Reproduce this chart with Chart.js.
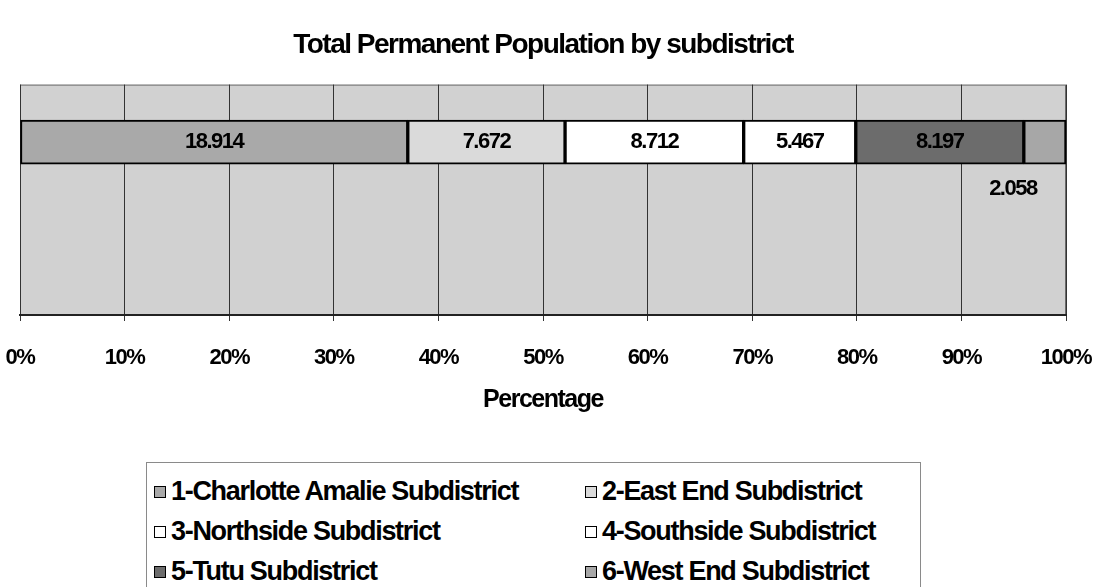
<!DOCTYPE html>
<html>
<head>
<meta charset="utf-8">
<script src="https://cdn.jsdelivr.net/npm/chart.js@4.4.1/dist/chart.umd.min.js"></script>
<style>
  body{margin:0;background:#fff;font-family:"Liberation Sans",Arial,sans-serif}
  #wrap{position:relative;width:1104px;height:587px;overflow:hidden}
  #legend{position:absolute;left:146px;top:462px;width:775px;height:160px;border:1px solid #8a8a8a;box-sizing:border-box;background:#fff}
  .item{position:absolute;display:flex;align-items:center;height:31px;font-weight:bold;font-size:27px;letter-spacing:-1.3px;color:#000;white-space:nowrap}
  .sw{width:10px;height:10px;border:1px solid #000;margin-right:5px;flex:none}
</style>
</head>
<body>
<div id="wrap">
  <canvas id="chart" width="1104" height="587"></canvas>
  <div id="legend"></div>
</div>
<script>
const districts = ['1-Charlotte Amalie Subdistrict','2-East End Subdistrict','3-Northside Subdistrict','4-Southside Subdistrict','5-Tutu Subdistrict','6-West End Subdistrict']
const population = [18.914, 7.672, 8.712, 5.467, 8.197, 2.058]
const fills = ['#a9a9a9','#dadada','#ffffff','#ffffff','#6c6c6c','#a7a7a7']
const pctTicks = [0,10,20,30,40,50,60,70,80,90,100]

const total = population.reduce((a,b)=>a+b,0)
const FONT = '"Liberation Sans", Arial, sans-serif'

// grey plot background with a frame, drawn under the bars
const plotBg = {
  id:'plotBg',
  beforeDraw(chart){
    const {ctx, chartArea:a} = chart
    ctx.save()
    ctx.fillStyle='#d1d1d1'
    ctx.fillRect(a.left,a.top,a.right-a.left,a.bottom-a.top)
    ctx.strokeStyle='#6a6a6a';ctx.lineWidth=1
    ctx.strokeRect(a.left+0.5,a.top+0.5,a.right-a.left-1,a.bottom-a.top-1)
    ctx.restore()
    ctx.letterSpacing='-1.5px'
  }
}

// value labels in the middle of each segment, the thin last one goes underneath
const valueLabels = {
  id:'valueLabels',
  afterDatasetsDraw(chart){
    const ctx=chart.ctx
    ctx.save()
    ctx.font='bold 22px '+FONT
    ctx.letterSpacing='-1.5px'
    ctx.fillStyle='#000';ctx.textAlign='center';ctx.textBaseline='middle'
    chart.data.datasets.forEach((ds,i)=>{
      const bar=chart.getDatasetMeta(i).data[0]
      let x=(bar.x+bar.base)/2, y=bar.y
      if(i===population.length-1){x-=32;y+=47}
      ctx.fillText(population[i].toFixed(3),x,y)
    })
    ctx.restore()
  }
}

const datasets = districts.map((name,i)=>({
  label:name,
  data:[population[i]/total*100, null],
  backgroundColor:fills[i],
  borderColor:'#000',
  borderWidth:2,
  borderSkipped:false,
  barThickness:44
}))

const chart = new Chart(document.getElementById('chart'),{
  type:'bar',
  data:{labels:['Population',''],datasets},
  options:{
    indexAxis:'y',
    responsive:false,
    animation:false,
    layout:{padding:{left:20,right:38,top:0,bottom:172}},
    plugins:{
      legend:{display:false},
      tooltip:{enabled:false},
      title:{display:true,text:'Total Permanent Population by subdistrict',color:'#000',
        font:{family:FONT,size:28,weight:'bold'},padding:{top:28,bottom:23}}
    },
    scales:{
      x:{
        stacked:true,min:0,max:100,
        afterFit(s){s.height=100;s.paddingLeft=0;s.paddingRight=0},
        afterBuildTicks(s){s.ticks=pctTicks.map(v=>({value:v}))},
        grid:{color:'#333',lineWidth:1,tickLength:6,drawTicks:true},
        border:{display:true,color:'#222',width:2},
        ticks:{callback:v=>v+'%',color:'#000',padding:24,maxRotation:0,autoSkip:false,
          font:{family:FONT,size:22,weight:'bold'}},
        title:{display:true,text:'Percentage',color:'#000',padding:{top:0,bottom:0},
          font:{family:FONT,size:25,weight:'bold'}}
      },
      y:{stacked:true,display:false}
    }
  },
  plugins:[plotBg,valueLabels]
})

// two-column legend box under the axis
const legend=document.getElementById('legend')
chart.data.datasets.forEach((ds,i)=>{
  const el=document.createElement('div');el.className='item'
  el.style.left=(i%2?438:7)+'px'
  el.style.top=(13+Math.floor(i/2)*40)+'px'
  const sw=document.createElement('span');sw.className='sw';sw.style.background=ds.backgroundColor
  el.appendChild(sw);el.appendChild(document.createTextNode(ds.label))
  legend.appendChild(el)
})
</script>
</body>
</html>
